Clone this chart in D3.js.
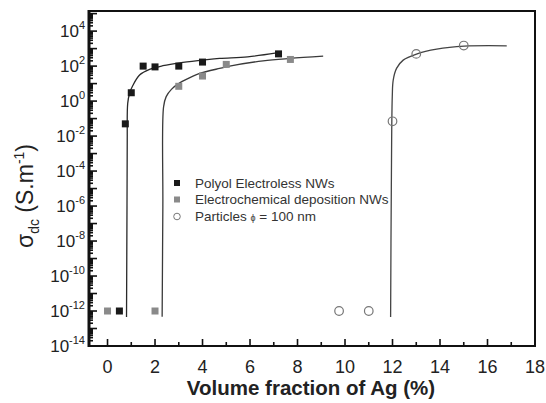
<!DOCTYPE html>
<html>
<head>
<meta charset="utf-8">
<script src="https://cdn.jsdelivr.net/npm/d3@7.9.0/dist/d3.min.js"></script>
<style>
  body { margin: 0; background: #fff; }
  svg { font-family: "Liberation Sans", Arial, sans-serif; }
</style>
</head>
<body>
<svg width="546" height="403"></svg>
<script>
// data
const polyolX = [0.5, 0.75, 1.0, 1.5, 2.0, 3.0, 4.0, 7.2];
const polyolY = [1e-12, 0.05, 3, 100, 90, 100, 170, 500];
const electroX = [0, 2.0, 3.0, 4.0, 5.0, 7.7];
const electroY = [1e-12, 1e-12, 7, 27, 125, 240];
const particleX = [9.75, 11.0, 12.0, 13.0, 15.0];
const particleY = [1e-12, 1e-12, 0.07, 500, 1500];

// fitted curves
const polyolFitX = [0.8, 0.82, 0.83, 0.85, 0.93, 1.07, 1.35, 1.77, 2.33, 3.04, 4.02, 4.72, 5.9, 7.12];
const polyolFitY = [4.6e-13, 1e-6, 6e-3, 0.74, 2.8, 8, 31, 65, 105, 155, 220, 275, 340, 570];
const electroFitX = [2.3, 2.33, 2.36, 2.47, 2.69, 3.04, 3.6, 3.88, 4.72, 5.14, 6.55, 7.67, 9.08];
const electroFitY = [4.7e-13, 1e-6, 0.47, 1.8, 4.7, 11, 27, 38, 74, 100, 200, 275, 370];
const particleFitX = [11.92, 11.95, 11.99, 12.03, 12.17, 12.45, 13.01, 13.86, 15.02, 16.81];
const particleFitY = [4.6e-13, 1e-5, 1.8, 16, 74, 220, 490, 930, 1380, 1450];

const xTickValues = [0, 2, 4, 6, 8, 10, 12, 14, 16, 18];
const yTickExps = [-14, -12, -10, -8, -6, -4, -2, 0, 2, 4];

const svg = d3.select('svg');
const x = d3.scaleLinear().domain([-0.78, 18]).range([89, 535]);
const y = d3.scaleLog().domain([1e-14, Math.pow(10, 5.15)]).range([346, 11]);

const zip = (xs, ys) => xs.map((v, i) => [v, ys[i]]);

// curves
let line = d3.line().x(d => x(d[0])).y(d => y(d[1])).curve(d3.curveCatmullRom.alpha(0.5));
[[polyolFitX, polyolFitY, '#2a2a2a'], [electroFitX, electroFitY, '#3a3a3a'], [particleFitX, particleFitY, '#444']]
  .forEach(([xs, ys, c]) => {
    svg.append('path')
      .attr('d', line(zip(xs, ys)))
      .attr('fill', 'none')
      .attr('stroke', c)
      .attr('stroke-width', 1.3);
  });

// points
svg.selectAll('.pol').data(zip(polyolX, polyolY)).enter().append('rect')
  .attr('x', d => x(d[0]) - 3.5).attr('y', d => y(d[1]) - 3.5)
  .attr('width', 7).attr('height', 7).attr('fill', '#1a1a1a');
svg.selectAll('.ele').data(zip(electroX, electroY)).enter().append('rect')
  .attr('x', d => x(d[0]) - 3.5).attr('y', d => y(d[1]) - 3.5)
  .attr('width', 7).attr('height', 7).attr('fill', '#8a8a8a');
svg.selectAll('.par').data(zip(particleX, particleY)).enter().append('circle')
  .attr('cx', d => x(d[0])).attr('cy', d => y(d[1])).attr('r', 4.3)
  .attr('fill', 'none').attr('stroke', '#777').attr('stroke-width', 1.2);

// x axis ticks (inside)
let xMinor = d3.range(0, 19, 1);
svg.selectAll('.xt').data(xMinor).enter().append('line')
  .attr('x1', d => x(d)).attr('x2', d => x(d))
  .attr('y1', 346).attr('y2', d => d % 2 === 0 ? 339 : 342)
  .attr('stroke', '#111').attr('stroke-width', 1.6);
svg.selectAll('.xl').data(xTickValues).enter().append('text')
  .attr('x', d => x(d)).attr('y', 373)
  .attr('text-anchor', 'middle').attr('font-size', 18).attr('fill', '#222')
  .text(d => d);

// y axis ticks (inside, log minors)
let yTicks = [];
for (let e = -14; e <= 5; e++) {
  for (let m = 1; m <= 9; m++) {
    let v = m * Math.pow(10, e);
    if (v <= y.domain()[1]) yTicks.push({ v: v, major: m === 1 });
  }
}
svg.selectAll('.yt').data(yTicks).enter().append('line')
  .attr('x1', 89).attr('x2', d => d.major ? 97 : 93)
  .attr('y1', d => y(d.v)).attr('y2', d => y(d.v))
  .attr('stroke', '#111').attr('stroke-width', 1.6);
let yl = svg.selectAll('.yl').data(yTickExps).enter().append('text')
  .attr('x', 85).attr('y', d => y(Math.pow(10, d)) + 6)
  .attr('text-anchor', 'end').attr('font-size', 17).attr('fill', '#222');
yl.append('tspan').text('10');
yl.append('tspan').attr('dy', -8).attr('font-size', 11).text(d => d);

// frame
svg.append('rect').attr('x', 89).attr('y', 11).attr('width', 446).attr('height', 335)
  .attr('fill', 'none').attr('stroke', '#111').attr('stroke-width', 2);
svg.append('line').attr('x1', 89).attr('x2', 89).attr('y1', 10).attr('y2', 347)
  .attr('stroke', '#111').attr('stroke-width', 3);

// axis titles
svg.append('text').attr('x', 311).attr('y', 395).attr('text-anchor', 'middle')
  .attr('font-size', 20.5).attr('font-weight', 'bold').attr('fill', '#222')
  .text('Volume fraction of Ag (%)');
let yt = svg.append('text').attr('transform', 'translate(33,196) rotate(-90)')
  .attr('text-anchor', 'middle').attr('font-size', 23).attr('fill', '#222');
yt.append('tspan').text('σ');
yt.append('tspan').attr('dy', 6).attr('font-size', 14).text('dc');
yt.append('tspan').attr('dy', -6).text(' (S.m');
yt.append('tspan').attr('dy', -9).attr('font-size', 14).text('-1');
yt.append('tspan').attr('dy', 9).text(')');

// legend
const legendLabels = ['Polyol Electroless NWs', 'Electrochemical deposition NWs', 'Particles '];
const legendY = [183, 199.5, 216.5];
let lg = svg.append('g');
lg.append('rect').attr('x', 174).attr('y', legendY[0] - 3).attr('width', 6).attr('height', 6).attr('fill', '#1a1a1a');
lg.append('rect').attr('x', 174).attr('y', legendY[1] - 3).attr('width', 6).attr('height', 6).attr('fill', '#8a8a8a');
lg.append('circle').attr('cx', 177).attr('cy', legendY[2]).attr('r', 3.3)
  .attr('fill', 'none').attr('stroke', '#777').attr('stroke-width', 1);
legendLabels.forEach((t, i) => {
  let tx = lg.append('text').attr('x', 195).attr('y', legendY[i] + 4.5)
    .attr('font-size', 13.5).attr('fill', '#333').text(t);
  if (i === 2) {
    tx.append('tspan').attr('font-size', 9).text('ϕ');
    tx.append('tspan').text(' = 100 nm');
  }
});
</script>
</body>
</html>
